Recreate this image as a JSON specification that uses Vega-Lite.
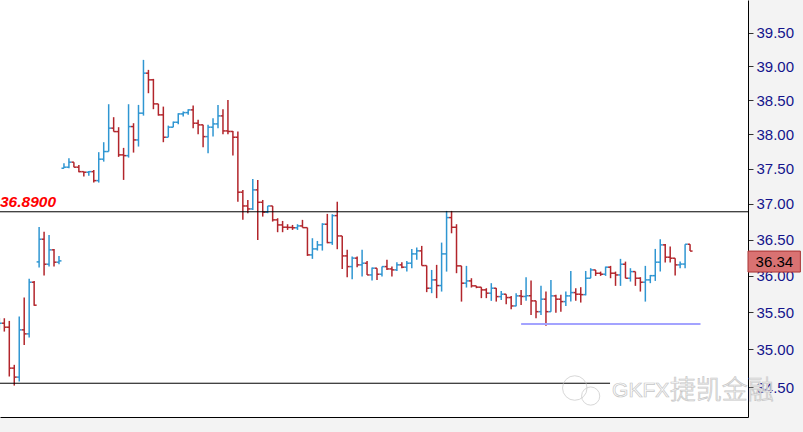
{
  "$schema": "https://vega.github.io/schema/vega-lite/v6.json",
  "width": 748,
  "height": 417,
  "autosize": {"type": "none"},
  "padding": {"left": 0, "top": 0, "right": 55, "bottom": 15},
  "background": "#f3f3f3",
  "config": {
    "view": {"fill": "white", "stroke": null},
    "axis": {"grid": false, "title": null}
  },
  "datasets": {
    "one": [{}],
    "bars": [
      {"k": -1, "o": 35.316, "h": 35.423, "l": 35.262, "c": 35.352},
      {"k": 0, "o": 35.352, "h": 35.419, "l": 35.239, "c": 35.298},
      {"k": 1, "o": 35.298, "h": 35.383, "l": 34.639, "c": 34.750},
      {"k": 2, "o": 34.750, "h": 34.794, "l": 34.519, "c": 34.631},
      {"k": 3, "o": 34.631, "h": 35.441, "l": 34.572, "c": 35.262},
      {"k": 4, "o": 35.262, "h": 35.700, "l": 35.060, "c": 35.208},
      {"k": 5, "o": 35.208, "h": 35.956, "l": 35.158, "c": 35.910},
      {"k": 6, "o": 35.910, "h": 35.928, "l": 35.590, "c": 35.596},
      {"k": 7, "o": 36.190, "h": 36.677, "l": 36.111, "c": 36.505},
      {"k": 8, "o": 36.505, "h": 36.611, "l": 36.001, "c": 36.158},
      {"k": 9, "o": 36.158, "h": 36.565, "l": 36.125, "c": 36.357},
      {"k": 10, "o": 36.357, "h": 36.370, "l": 36.125, "c": 36.186},
      {"k": 11, "o": 36.186, "h": 36.273, "l": 36.158, "c": 36.204},
      {"k": 12, "o": 37.509, "h": 37.581, "l": 37.509, "c": 37.524},
      {"k": 13, "o": 37.524, "h": 37.653, "l": 37.509, "c": 37.596},
      {"k": 14, "o": 37.596, "h": 37.596, "l": 37.524, "c": 37.524},
      {"k": 15, "o": 37.524, "h": 37.557, "l": 37.452, "c": 37.460},
      {"k": 16, "o": 37.460, "h": 37.460, "l": 37.389, "c": 37.452},
      {"k": 17, "o": 37.452, "h": 37.470, "l": 37.403, "c": 37.460},
      {"k": 18, "o": 37.460, "h": 37.485, "l": 37.304, "c": 37.332},
      {"k": 19, "o": 37.332, "h": 37.740, "l": 37.304, "c": 37.639},
      {"k": 20, "o": 37.639, "h": 37.884, "l": 37.604, "c": 37.749},
      {"k": 21, "o": 37.749, "h": 38.438, "l": 37.749, "c": 38.088},
      {"k": 22, "o": 38.088, "h": 38.248, "l": 38.038, "c": 38.038},
      {"k": 23, "o": 38.038, "h": 38.102, "l": 37.672, "c": 37.701},
      {"k": 24, "o": 37.701, "h": 37.802, "l": 37.342, "c": 37.690},
      {"k": 25, "o": 37.690, "h": 38.438, "l": 37.662, "c": 38.111},
      {"k": 26, "o": 38.111, "h": 38.160, "l": 37.734, "c": 37.917},
      {"k": 27, "o": 37.917, "h": 38.428, "l": 37.821, "c": 38.307},
      {"k": 28, "o": 38.307, "h": 39.095, "l": 38.271, "c": 38.897},
      {"k": 29, "o": 38.897, "h": 38.946, "l": 38.600, "c": 38.798},
      {"k": 30, "o": 38.798, "h": 38.812, "l": 38.365, "c": 38.443},
      {"k": 31, "o": 38.443, "h": 38.443, "l": 38.271, "c": 38.282},
      {"k": 32, "o": 38.282, "h": 38.403, "l": 37.884, "c": 37.956},
      {"k": 33, "o": 37.956, "h": 38.125, "l": 37.956, "c": 38.102},
      {"k": 34, "o": 38.102, "h": 38.184, "l": 38.102, "c": 38.174},
      {"k": 35, "o": 38.174, "h": 38.307, "l": 38.146, "c": 38.296},
      {"k": 36, "o": 38.296, "h": 38.330, "l": 38.257, "c": 38.315},
      {"k": 37, "o": 38.315, "h": 38.365, "l": 38.282, "c": 38.355},
      {"k": 38, "o": 38.355, "h": 38.418, "l": 38.087, "c": 38.160},
      {"k": 39, "o": 38.160, "h": 38.209, "l": 38.000, "c": 38.136},
      {"k": 40, "o": 38.136, "h": 38.136, "l": 37.812, "c": 37.965},
      {"k": 41, "o": 37.965, "h": 38.136, "l": 37.726, "c": 38.102},
      {"k": 42, "o": 38.102, "h": 38.233, "l": 37.965, "c": 38.150},
      {"k": 43, "o": 38.150, "h": 38.428, "l": 38.087, "c": 38.267},
      {"k": 44, "o": 38.267, "h": 38.365, "l": 38.000, "c": 38.048},
      {"k": 45, "o": 38.048, "h": 38.501, "l": 38.000, "c": 38.040},
      {"k": 46, "o": 38.040, "h": 38.048, "l": 37.691, "c": 37.956},
      {"k": 47, "o": 37.956, "h": 38.038, "l": 37.033, "c": 37.167},
      {"k": 48, "o": 37.167, "h": 37.200, "l": 36.776, "c": 36.972},
      {"k": 49, "o": 36.972, "h": 37.057, "l": 36.870, "c": 36.930},
      {"k": 50, "o": 36.930, "h": 37.356, "l": 36.916, "c": 37.200},
      {"k": 51, "o": 37.200, "h": 37.342, "l": 36.495, "c": 37.024},
      {"k": 52, "o": 37.024, "h": 37.057, "l": 36.822, "c": 36.884},
      {"k": 53, "o": 36.884, "h": 36.972, "l": 36.870, "c": 36.972},
      {"k": 54, "o": 36.972, "h": 36.972, "l": 36.752, "c": 36.776},
      {"k": 55, "o": 36.776, "h": 36.799, "l": 36.603, "c": 36.705},
      {"k": 56, "o": 36.705, "h": 36.761, "l": 36.603, "c": 36.673},
      {"k": 57, "o": 36.673, "h": 36.715, "l": 36.635, "c": 36.670},
      {"k": 58, "o": 36.670, "h": 36.705, "l": 36.635, "c": 36.665},
      {"k": 59, "o": 36.665, "h": 36.715, "l": 36.635, "c": 36.691},
      {"k": 60, "o": 36.691, "h": 36.776, "l": 36.667, "c": 36.667},
      {"k": 61, "o": 36.667, "h": 36.667, "l": 36.273, "c": 36.287},
      {"k": 62, "o": 36.287, "h": 36.519, "l": 36.232, "c": 36.370},
      {"k": 63, "o": 36.370, "h": 36.481, "l": 36.347, "c": 36.426},
      {"k": 64, "o": 36.426, "h": 36.729, "l": 36.347, "c": 36.715},
      {"k": 65, "o": 36.715, "h": 36.860, "l": 36.449, "c": 36.458},
      {"k": 66, "o": 36.458, "h": 36.855, "l": 36.426, "c": 36.836},
      {"k": 67, "o": 36.836, "h": 37.032, "l": 36.366, "c": 36.551},
      {"k": 68, "o": 36.551, "h": 36.551, "l": 36.093, "c": 36.273},
      {"k": 69, "o": 36.273, "h": 36.357, "l": 35.979, "c": 36.125},
      {"k": 70, "o": 36.125, "h": 36.264, "l": 35.951, "c": 36.242},
      {"k": 71, "o": 36.242, "h": 36.264, "l": 36.117, "c": 36.149},
      {"k": 72, "o": 36.149, "h": 36.357, "l": 35.987, "c": 36.172},
      {"k": 73, "o": 36.172, "h": 36.204, "l": 36.010, "c": 36.010},
      {"k": 74, "o": 36.010, "h": 36.111, "l": 35.932, "c": 36.103},
      {"k": 75, "o": 36.103, "h": 36.103, "l": 35.942, "c": 36.020},
      {"k": 76, "o": 36.020, "h": 36.125, "l": 35.987, "c": 36.125},
      {"k": 77, "o": 36.125, "h": 36.218, "l": 36.079, "c": 36.093},
      {"k": 78, "o": 36.093, "h": 36.125, "l": 35.987, "c": 36.080},
      {"k": 79, "o": 36.080, "h": 36.186, "l": 36.066, "c": 36.149},
      {"k": 80, "o": 36.149, "h": 36.186, "l": 36.103, "c": 36.117},
      {"k": 81, "o": 36.117, "h": 36.204, "l": 36.056, "c": 36.172},
      {"k": 82, "o": 36.172, "h": 36.370, "l": 36.103, "c": 36.301},
      {"k": 83, "o": 36.301, "h": 36.388, "l": 36.218, "c": 36.343},
      {"k": 84, "o": 36.343, "h": 36.412, "l": 36.139, "c": 36.139},
      {"k": 85, "o": 36.139, "h": 36.139, "l": 35.774, "c": 35.828},
      {"k": 86, "o": 35.828, "h": 36.079, "l": 35.760, "c": 35.942},
      {"k": 87, "o": 35.942, "h": 36.149, "l": 35.692, "c": 35.864},
      {"k": 88, "o": 35.864, "h": 36.458, "l": 35.782, "c": 36.301},
      {"k": 89, "o": 36.301, "h": 36.902, "l": 36.056, "c": 36.808},
      {"k": 90, "o": 36.808, "h": 36.902, "l": 36.588, "c": 36.672},
      {"k": 91, "o": 36.672, "h": 36.715, "l": 36.034, "c": 36.135},
      {"k": 92, "o": 36.135, "h": 36.135, "l": 35.645, "c": 35.897},
      {"k": 93, "o": 35.897, "h": 36.135, "l": 35.837, "c": 35.928},
      {"k": 94, "o": 35.928, "h": 35.965, "l": 35.837, "c": 35.860},
      {"k": 95, "o": 35.860, "h": 35.860, "l": 35.828, "c": 35.842},
      {"k": 96, "o": 35.842, "h": 35.842, "l": 35.692, "c": 35.805},
      {"k": 97, "o": 35.805, "h": 35.828, "l": 35.692, "c": 35.760},
      {"k": 98, "o": 35.760, "h": 35.897, "l": 35.655, "c": 35.828},
      {"k": 99, "o": 35.828, "h": 35.830, "l": 35.645, "c": 35.713},
      {"k": 100, "o": 35.713, "h": 35.791, "l": 35.668, "c": 35.746},
      {"k": 101, "o": 35.746, "h": 35.746, "l": 35.609, "c": 35.700},
      {"k": 102, "o": 35.700, "h": 35.723, "l": 35.541, "c": 35.586},
      {"k": 103, "o": 35.586, "h": 35.760, "l": 35.580, "c": 35.723},
      {"k": 104, "o": 35.723, "h": 35.805, "l": 35.600, "c": 35.715},
      {"k": 105, "o": 35.715, "h": 35.979, "l": 35.655, "c": 35.725},
      {"k": 106, "o": 35.725, "h": 35.933, "l": 35.464, "c": 35.655},
      {"k": 107, "o": 35.655, "h": 35.655, "l": 35.419, "c": 35.508},
      {"k": 108, "o": 35.508, "h": 35.860, "l": 35.464, "c": 35.678},
      {"k": 109, "o": 35.678, "h": 35.782, "l": 35.316, "c": 35.508},
      {"k": 110, "o": 35.508, "h": 35.942, "l": 35.508, "c": 35.723},
      {"k": 111, "o": 35.723, "h": 35.737, "l": 35.495, "c": 35.678},
      {"k": 112, "o": 35.678, "h": 35.737, "l": 35.508, "c": 35.645},
      {"k": 113, "o": 35.645, "h": 35.782, "l": 35.586, "c": 35.723},
      {"k": 114, "o": 35.723, "h": 36.065, "l": 35.645, "c": 35.768},
      {"k": 115, "o": 35.768, "h": 35.828, "l": 35.655, "c": 35.746},
      {"k": 116, "o": 35.746, "h": 35.842, "l": 35.632, "c": 35.740},
      {"k": 117, "o": 35.740, "h": 36.065, "l": 35.730, "c": 35.965},
      {"k": 118, "o": 35.965, "h": 36.103, "l": 35.965, "c": 36.079},
      {"k": 119, "o": 36.079, "h": 36.079, "l": 35.997, "c": 36.033},
      {"k": 120, "o": 36.033, "h": 36.056, "l": 35.997, "c": 36.020},
      {"k": 121, "o": 36.020, "h": 36.125, "l": 35.997, "c": 36.117},
      {"k": 122, "o": 36.117, "h": 36.135, "l": 35.965, "c": 36.034},
      {"k": 123, "o": 36.034, "h": 36.056, "l": 35.860, "c": 36.010},
      {"k": 124, "o": 36.010, "h": 36.232, "l": 35.860, "c": 36.158},
      {"k": 125, "o": 36.158, "h": 36.194, "l": 35.965, "c": 35.965},
      {"k": 126, "o": 35.965, "h": 36.103, "l": 35.919, "c": 36.056},
      {"k": 127, "o": 36.056, "h": 36.056, "l": 35.860, "c": 35.965},
      {"k": 128, "o": 35.965, "h": 35.979, "l": 35.782, "c": 35.910},
      {"k": 129, "o": 35.910, "h": 36.135, "l": 35.645, "c": 35.942},
      {"k": 130, "o": 35.942, "h": 36.010, "l": 35.897, "c": 36.000},
      {"k": 131, "o": 36.000, "h": 36.370, "l": 35.928, "c": 36.186},
      {"k": 132, "o": 36.186, "h": 36.505, "l": 36.056, "c": 36.426},
      {"k": 133, "o": 36.426, "h": 36.440, "l": 36.181, "c": 36.255},
      {"k": 134, "o": 36.255, "h": 36.402, "l": 36.181, "c": 36.241},
      {"k": 135, "o": 36.241, "h": 36.241, "l": 36.001, "c": 36.149},
      {"k": 136, "o": 36.149, "h": 36.194, "l": 36.103, "c": 36.160},
      {"k": 137, "o": 36.160, "h": 36.435, "l": 36.103, "c": 36.435},
      {"k": 138, "o": 36.435, "h": 36.435, "l": 36.340, "c": 36.340}
    ]
  },
  "layer": [
    {
      "data": {"name": "bars"},
      "mark": {"type": "rule", "strokeWidth": 1.5},
      "encoding": {
        "x": {
          "field": "k",
          "type": "quantitative",
          "scale": {"domain": [-0.871, 149.66], "nice": false, "zero": false},
          "axis": {"orient": "bottom", "domain": true, "domainColor": "#000000", "domainWidth": 1, "ticks": false, "labels": false}
        },
        "y": {
          "field": "l",
          "type": "quantitative",
          "scale": {"type": "log", "domain": [34.107, 40.0], "nice": false, "zero": false},
          "axis": {
            "orient": "right",
            "values": [34.5, 35, 35.5, 36, 36.5, 37, 37.5, 38, 38.5, 39, 39.5],
            "format": ".2f",
            "domainColor": "#000000",
            "tickColor": "#333333",
            "tickSize": 5,
            "labelPadding": 3,
            "labelFont": "Liberation Sans",
            "labelFontSize": 15,
            "labelColor": "#14148c"
          }
        },
        "y2": {"field": "h"},
        "color": {"condition": {"test": "datum.c > datum.o", "value": "#2f96d2"}, "value": "#b2252b"}
      }
    },
    {
      "data": {"name": "bars"},
      "mark": {"type": "rule", "strokeWidth": 1.5, "xOffset": -2.5, "x2Offset": 0},
      "encoding": {
        "x": {"field": "k", "type": "quantitative"},
        "x2": {"field": "k"},
        "y": {"field": "o", "type": "quantitative"},
        "color": {"condition": {"test": "datum.c > datum.o", "value": "#2f96d2"}, "value": "#b2252b"}
      }
    },
    {
      "data": {"name": "bars"},
      "mark": {"type": "rule", "strokeWidth": 1.5, "xOffset": 0, "x2Offset": 2.5},
      "encoding": {
        "x": {"field": "k", "type": "quantitative"},
        "x2": {"field": "k"},
        "y": {"field": "c", "type": "quantitative"},
        "color": {"condition": {"test": "datum.c > datum.o", "value": "#2f96d2"}, "value": "#b2252b"}
      }
    },
    {
      "data": {"name": "one"},
      "mark": {"type": "rule", "color": "#000000", "strokeWidth": 1},
      "encoding": {"y": {"datum": 36.89, "type": "quantitative"}}
    },
    {
      "data": {"name": "one"},
      "mark": {"type": "rule", "color": "#000000", "strokeWidth": 1},
      "encoding": {
        "x": {"datum": -0.871, "type": "quantitative"},
        "x2": {"datum": 121.9},
        "y": {"datum": 34.55, "type": "quantitative"}
      }
    },
    {
      "data": {"name": "one"},
      "mark": {"type": "rule", "color": "#a3a3ff", "strokeWidth": 2},
      "encoding": {
        "x": {"datum": 104, "type": "quantitative"},
        "x2": {"datum": 140.1},
        "y": {"datum": 35.34, "type": "quantitative"}
      }
    },
    {
      "data": {"name": "one"},
      "mark": {"type": "text", "text": "36.8900", "align": "left", "baseline": "alphabetic", "dy": -5, "font": "Liberation Sans", "fontSize": 15.5, "fontWeight": "bold", "fontStyle": "italic", "color": "#ff0000"},
      "encoding": {
        "x": {"datum": -0.871, "type": "quantitative"},
        "y": {"datum": 36.89, "type": "quantitative"}
      }
    },
    {
      "data": {"name": "one"},
      "mark": {"type": "point", "shape": "circle", "filled": false, "size": 600, "color": "#c8c8c8", "strokeWidth": 1},
      "encoding": {
        "x": {"datum": 114.8, "type": "quantitative"},
        "y": {"datum": 34.487, "type": "quantitative"}
      }
    },
    {
      "data": {"name": "one"},
      "mark": {"type": "point", "shape": "circle", "filled": false, "size": 330, "color": "#c8c8c8", "strokeWidth": 1},
      "encoding": {
        "x": {"datum": 118.0, "type": "quantitative"},
        "y": {"datum": 34.381, "type": "quantitative"}
      }
    },
    {
      "data": {"name": "one"},
      "mark": {"type": "text", "text": "GKFX", "align": "left", "baseline": "middle", "font": "Liberation Sans", "fontSize": 21, "fill": "#ffffff", "stroke": "#c6c6c6", "strokeWidth": 0.7},
      "encoding": {
        "x": {"datum": 122.3, "type": "quantitative"},
        "y": {"datum": 34.447, "type": "quantitative"}
      }
    },
    {
      "data": {"name": "one"},
      "mark": {"type": "text", "text": "捷凯金融", "align": "left", "baseline": "middle", "font": "Noto Sans CJK SC", "fontWeight": 300, "fontSize": 26, "fill": "#ffffff", "stroke": "#c6c6c6", "strokeWidth": 0.7},
      "encoding": {
        "x": {"datum": 133.9, "type": "quantitative"},
        "y": {"datum": 34.447, "type": "quantitative"}
      }
    },
    {
      "data": {"name": "one"},
      "mark": {"type": "rect", "fill": "#d97272", "stroke": "#a83232", "strokeWidth": 1},
      "encoding": {
        "x": {"datum": 149.66, "type": "quantitative"},
        "x2": {"datum": 160.2},
        "y": {"datum": 36.34, "type": "quantitative"},
        "y2": {"datum": 36.05}
      }
    },
    {
      "data": {"name": "one"},
      "mark": {"type": "text", "text": "36.34", "align": "center", "baseline": "middle", "font": "Liberation Sans", "fontSize": 15, "color": "#000000"},
      "encoding": {
        "x": {"datum": 154.96, "type": "quantitative"},
        "y": {"datum": 36.19, "type": "quantitative"}
      }
    }
  ]
}
